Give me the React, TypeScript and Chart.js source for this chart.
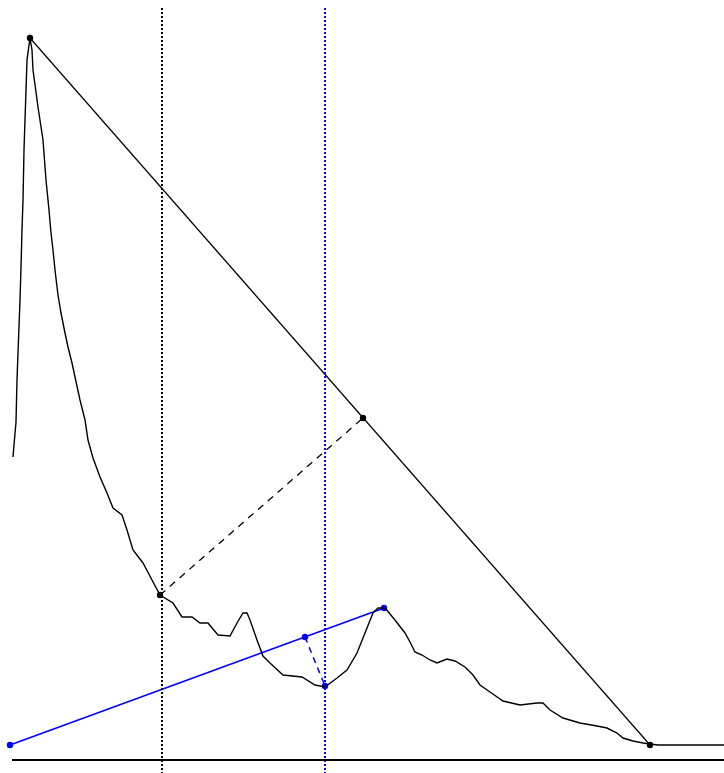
import React, { useEffect, useRef } from "react";
import { Chart, registerables } from "chart.js";

Chart.register(...registerables);

// Curve: x position, height above baseline
const curveX = [13, 14, 16, 17, 18, 20, 21, 22, 23, 24, 25, 26, 27, 30,
  32, 33, 38, 43, 46, 49, 51, 53, 55, 58, 61, 65, 68, 72, 75, 80, 85, 88, 93, 100, 107, 113, 122, 127, 133, 143, 152, 160,
  173, 182, 192, 200, 208, 218, 230, 237, 243, 247, 250, 257, 263, 270, 283, 302, 315, 325, 337, 347, 357, 365, 373, 378, 385,
  395, 405, 410, 415, 422, 430, 437, 447, 455, 465, 473, 480, 490, 503, 520, 537, 543, 550, 563, 580, 597, 607, 617, 623, 633, 643, 650, 658, 724];
const curveY = [303, 315, 338, 380, 407, 460, 493, 530, 560, 610, 640, 670, 700, 722,
  710, 690, 653, 620, 580, 550, 527, 510, 490, 465, 447, 427, 413, 397, 383, 360, 340, 320, 302, 283, 267, 252, 245, 230, 210, 197, 180, 165,
  157, 143, 143, 137, 137, 125, 124, 137, 147, 147, 140, 120, 104, 97, 85, 83, 75, 73, 82, 90, 107, 127, 147, 152, 152,
  140, 127, 118, 108, 105, 100, 97, 101, 99, 93, 85, 75, 68, 59, 55, 57, 57, 50, 42, 37, 34, 32, 27, 22, 19, 17, 16, 15, 15];

// Chord from peak to end
const chordX = [30, 650];
const chordY = [722, 15];
// Perpendicular (dashed) from curve point to chord
const perpX = [160, 363];
const perpY = [165, 342];
// Blue line
const blueX = [10, 384];
const blueY = [15, 152];
// Blue dashed
const blueDashX = [305, 325];
const blueDashY = [123, 74];
// Vertical markers
const blackVX = 162;
const blueVX = 325;
const vTop = 752;
const vBottom = -13;
// Baseline
const baseX = [12, 724];
const baseY = [0, 0];

const pts = (xs: number[], ys: number[]) => xs.map((x, i) => ({ x, y: ys[i] }));

export default function App() {
  const ref = useRef<HTMLCanvasElement>(null);
  useEffect(() => {
    if (!ref.current) return;
    const line = (data: any[], color: string, width: number, dash: number[] = []) => ({
      data,
      showLine: true,
      borderColor: color,
      borderWidth: width,
      borderDash: dash,
      pointRadius: 0,
      fill: false,
      tension: 0,
    });
    const dots = (data: any[], color: string) => ({
      data,
      showLine: false,
      pointRadius: 3.2,
      pointBackgroundColor: color,
      pointBorderColor: color,
      pointBorderWidth: 0,
    });
    const chart = new Chart(ref.current, {
      type: "scatter",
      data: {
        datasets: [
          line(pts(baseX, baseY), "#000", 2),
          line([{ x: blackVX, y: vTop }, { x: blackVX, y: vBottom }], "#000", 2, [2, 2]),
          line([{ x: blueVX, y: vTop }, { x: blueVX, y: vBottom }], "#0000ff", 2, [2, 2]),
          line(pts(curveX, curveY), "#000", 1.4),
          line(pts(chordX, chordY), "#000", 1.2),
          line(pts(perpX, perpY), "#000", 1.3, [7, 6]),
          line(pts(blueX, blueY), "#0000ff", 1.6),
          line(pts(blueDashX, blueDashY), "#0000ff", 1.5, [6, 5]),
          dots([...pts(chordX, chordY), ...pts(perpX, perpY)], "#000"),
          dots([...pts(blueX, blueY), ...pts(blueDashX, blueDashY)], "#0000ff"),
        ] as any,
      },
      options: {
        animation: false,
        responsive: false,
        devicePixelRatio: 1,
        layout: { padding: 0, autoPadding: false },
        plugins: { legend: { display: false }, tooltip: { enabled: false } },
        scales: {
          x: { type: "linear", min: 0, max: 724, display: false },
          y: { type: "linear", min: -13, max: 760, display: false },
        },
      } as any,
    });
    return () => chart.destroy();
  }, []);
  return (
    <div style={{ position: "absolute", left: 0, top: 0, width: 724, height: 773, background: "#fff" }}>
      <canvas ref={ref} width={724} height={773} style={{ display: "block" }} />
    </div>
  );
}
